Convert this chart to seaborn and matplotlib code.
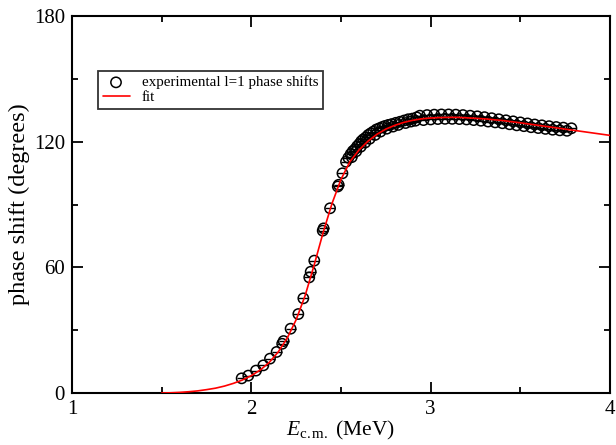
import numpy as np
import pandas as pd
import matplotlib
matplotlib.use("Agg")
import matplotlib.pyplot as plt
import seaborn as sns

# Measured l=1 phase shifts: centre-of-mass energy (MeV) and phase (degrees)
energy_exp = [
    1.946, 1.983, 2.026, 2.067, 2.104, 2.141, 2.172, 2.180, 2.219, 2.262,
    2.290, 2.323, 2.331, 2.351, 2.398, 2.403, 2.439, 2.482, 2.487, 2.508,
    2.528, 2.541, 2.554, 2.566, 2.578, 2.590, 2.602, 2.613, 2.624, 2.638,
    2.652, 2.666, 2.680, 2.697, 2.714, 2.730, 2.745, 2.764, 2.783, 2.806,
    2.829, 2.852, 2.875, 2.898, 2.922,
    2.560, 2.585, 2.610, 2.635, 2.660, 2.690, 2.720, 2.755, 2.790, 2.820,
    2.860, 2.890, 2.915,
    2.94, 2.96, 2.98, 3.00, 3.02, 3.04, 3.06, 3.08, 3.10, 3.12,
    3.14, 3.16, 3.18, 3.20, 3.22, 3.24, 3.26, 3.28, 3.30, 3.32,
    3.34, 3.36, 3.38, 3.40, 3.42, 3.44, 3.46, 3.48, 3.50, 3.52,
    3.54, 3.56, 3.58, 3.60, 3.62, 3.64, 3.66, 3.68, 3.70, 3.72,
    3.74, 3.76, 3.785,
]
phase_exp = [
    7.0, 8.3, 10.7, 13.2, 16.4, 19.6, 23.5, 24.8, 30.7, 37.7,
    45.2, 55.2, 57.9, 63.2, 77.5, 78.6, 88.2, 98.6, 99.4, 104.9,
    110.4, 112.3, 114.1, 115.5, 116.4, 117.8, 118.9, 120.2, 121.1, 122.0,
    123.2, 124.0, 124.8, 125.8, 126.4, 127.0, 127.5, 128.0, 128.4, 129.0,
    129.5, 130.1, 130.7, 131.0, 131.6,
    112.6, 115.4, 117.6, 119.6, 121.4, 123.2, 124.8, 126.2, 127.2, 128.0,
    128.9, 129.6, 130.0,
    132.4, 130.3, 132.7, 130.6, 132.9, 130.8, 133.0, 130.9, 133.0, 130.9,
    132.9, 130.8, 132.7, 130.6, 132.4, 130.3, 132.1, 130.0, 131.7, 129.6,
    131.2, 129.2, 130.7, 128.8, 130.2, 128.3, 129.7, 127.8, 129.2, 127.4,
    128.7, 126.9, 128.2, 126.5, 127.8, 126.1, 127.4, 125.7, 127.0, 125.4,
    126.7, 125.2, 126.4,
]

# Fitted phase-shift curve
energy_fit = [
    1.50, 1.55, 1.60, 1.65, 1.70, 1.75, 1.80, 1.85, 1.90, 1.95,
    2.00, 2.05, 2.10, 2.15, 2.20, 2.25, 2.30, 2.35, 2.40, 2.45,
    2.50, 2.55, 2.60, 2.65, 2.70, 2.75, 2.80, 2.85, 2.90, 2.95,
    3.00, 3.05, 3.10, 3.15, 3.20, 3.30, 3.40, 3.50, 3.60, 3.70,
    3.80, 3.90, 4.00,
]
phase_fit = [
    0.0, 0.1, 0.3, 0.6, 1.0, 1.6, 2.3, 3.3, 4.6, 6.2,
    8.3, 11.0, 14.6, 19.6, 26.2, 35.0, 46.5, 61.0, 76.5, 90.5,
    102.0, 110.5, 116.0, 120.2, 123.5, 126.0, 127.8, 129.2, 130.2, 130.9,
    131.3, 131.5, 131.6, 131.6, 131.4, 130.9, 130.1, 129.0, 127.8, 126.6,
    125.4, 124.2, 123.0,
]

x_ticks = [1, 2, 3, 4]
y_ticks = [0, 60, 120, 180]

exp_df = pd.DataFrame({"E": energy_exp, "delta": phase_exp})
fit_df = pd.DataFrame({"E": energy_fit, "delta": phase_fit})

sns.set_style("ticks")
plt.rcParams["font.family"] = ["Liberation Serif", "DejaVu Serif"]
plt.rcParams["mathtext.fontset"] = "custom"
plt.rcParams["mathtext.rm"] = "Liberation Serif"
plt.rcParams["mathtext.it"] = "Liberation Serif:italic"
for key in ("text.color", "axes.labelcolor", "xtick.color", "ytick.color",
            "axes.edgecolor"):
    plt.rcParams[key] = "black"

fig = plt.figure(figsize=(6.16, 4.45), dpi=100)
ax = fig.add_axes([72 / 616, 52 / 445, 538 / 616, 377 / 445])

sns.scatterplot(data=exp_df, x="E", y="delta", ax=ax, marker="o", s=55,
                facecolor="none", edgecolor="black", linewidth=1.1,
                label="experimental l=1 phase shifts", zorder=3)
# error-bar caps drawn across each symbol
sns.scatterplot(data=exp_df, x="E", y="delta", ax=ax, marker="_", s=50,
                color="black", linewidth=1.0, legend=False, zorder=3)
sns.lineplot(data=fit_df, x="E", y="delta", ax=ax, color="red",
             linewidth=1.2, label="fit", zorder=4)

ax.set_xlim(1, 4)
ax.set_ylim(0, 180)
ax.set_xticks(x_ticks)
ax.set_yticks(y_ticks)
ax.set_xticks([1.5, 2.5, 3.5], minor=True)
ax.set_yticks([30, 90, 150], minor=True)
ax.tick_params(which="both", direction="in", top=True, right=True,
               labelsize=15, width=1.3, pad=5)
ax.tick_params(which="major", length=8)
ax.tick_params(which="minor", length=4.5)
for sp in ax.spines.values():
    sp.set_linewidth(1.5)
    sp.set_visible(True)

ax.set_xlabel(r"$E_{\mathrm{c.m.}}$ (MeV)", fontsize=15.5, labelpad=0)
ax.set_ylabel("phase shift (degrees)", fontsize=17.5, labelpad=3)

leg = ax.legend(loc="upper left", bbox_to_anchor=(26 / 538, 322 / 377),
                frameon=True, fancybox=False, fontsize=10.8, borderpad=0.3,
                handlelength=1.8, handletextpad=0.8, labelspacing=0.1,
                borderaxespad=0)
leg.get_frame().set_edgecolor("black")
leg.get_frame().set_linewidth(1.3)

fig.savefig("out.png", dpi=100)
